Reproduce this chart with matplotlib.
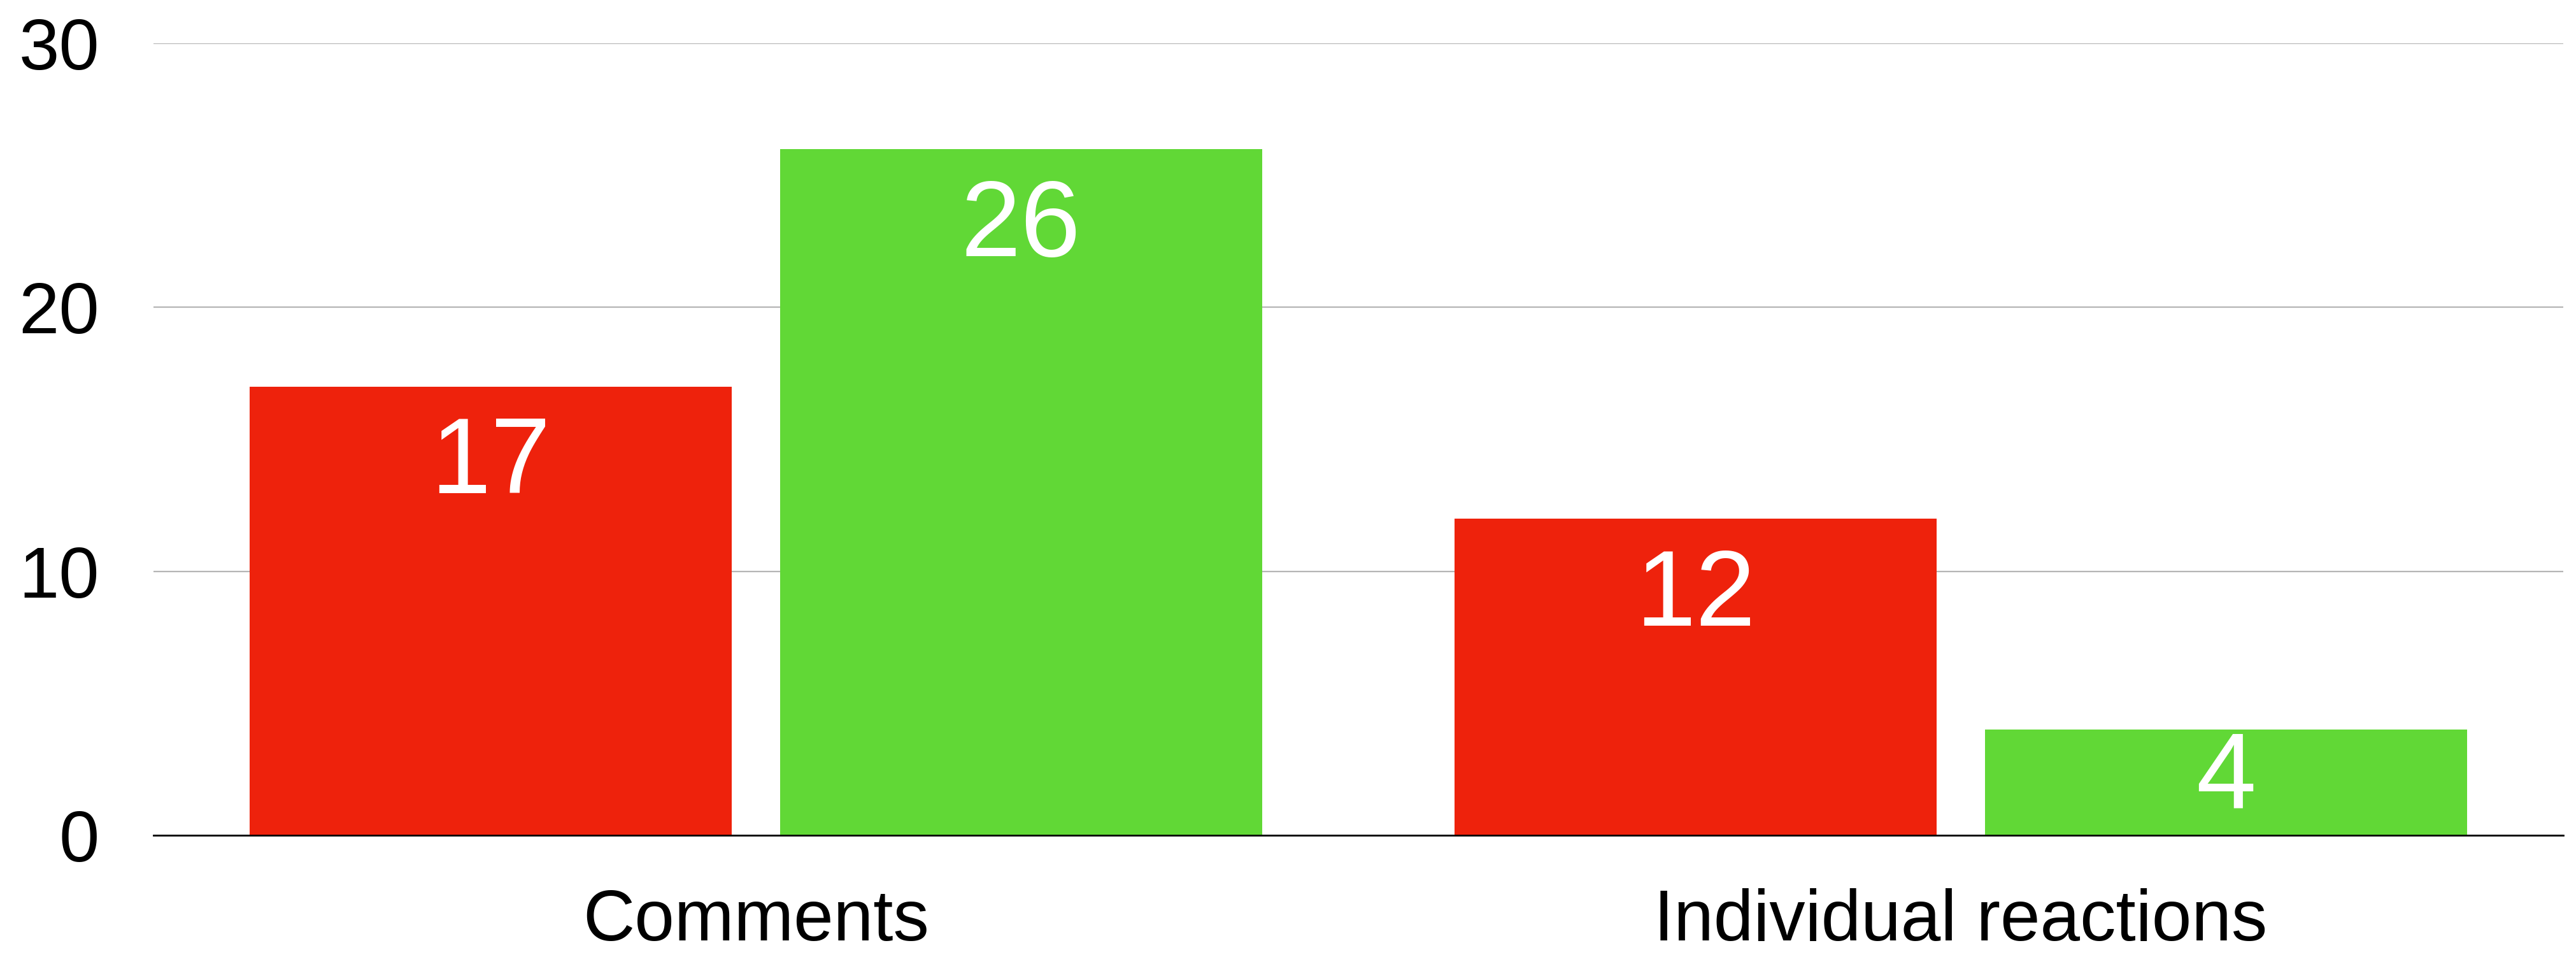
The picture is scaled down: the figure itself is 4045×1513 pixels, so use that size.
import matplotlib
matplotlib.use("Agg")
import matplotlib.pyplot as plt
import numpy as np

plt.rcParams['font.family'] = ['Liberation Sans', 'DejaVu Sans']

categories = ['Comments', 'Individual reactions']
red_values = [17, 12]
green_values = [26, 4]
y_ticks = [0, 10, 20, 30]

red = '#EE220C'
green = '#61D836'

fig = plt.figure(figsize=(40.45, 15.13), dpi=100)
ax = fig.add_axes([0.05958, 0.13351, 0.93548, 0.82155])

x = np.arange(len(categories))
width = 0.4
offset = 0.22
bars_r = ax.bar(x - offset, red_values, width, color=red, zorder=2)
bars_g = ax.bar(x + offset, green_values, width, color=green, zorder=2)

ax.set_xlim(-0.5, len(categories) - 0.5)
ax.set_ylim(0, 30)
ax.set_yticks(y_ticks)
ax.set_yticklabels([str(t) for t in y_ticks])
ax.set_xticks(x)
ax.set_xticklabels(categories)

ax.tick_params(axis='y', length=0, pad=61, labelsize=82)
ax.tick_params(axis='x', length=0, pad=60, labelsize=81)

ax.yaxis.grid(True, color='#B5B5B5', linewidth=1.6, zorder=0)
ax.set_axisbelow(True)
for side in ['left', 'right', 'top']:
    ax.spines[side].set_visible(False)
ax.spines['bottom'].set_color('black')
ax.spines['bottom'].set_linewidth(2.0)
ax.spines['bottom'].set_zorder(3)

# value labels inside bars, near top
px_per_unit = 1243 / 30
for bars in (bars_r, bars_g):
    for b in bars:
        v = b.get_height()
        pad = 33 if v * px_per_unit > 300 else 0
        ax.annotate(str(int(v)), (b.get_x() + b.get_width() / 2, v),
                    xytext=(0, -pad), textcoords='offset points',
                    ha='center', va='top', color='white', fontsize=122,
                    zorder=4)

fig.savefig('out.png', dpi=100, facecolor='white')
